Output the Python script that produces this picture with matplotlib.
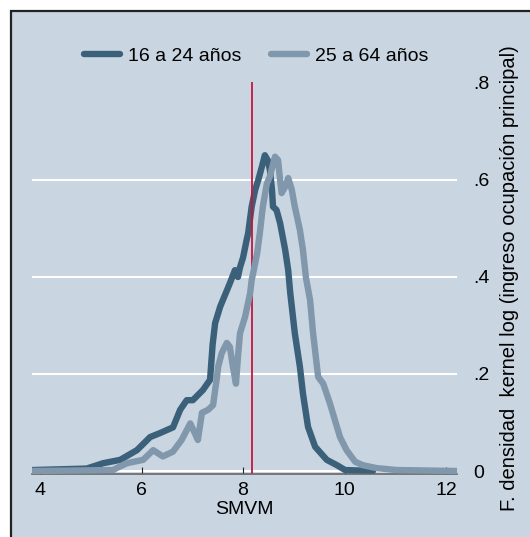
import matplotlib
matplotlib.use("Agg")
import matplotlib.pyplot as plt
from matplotlib.patches import Rectangle

# densidad kernel, 16 a 24 años
x_joven = [3.86, 4.92, 5.24, 5.58, 5.91, 6.17, 6.36, 6.62, 6.76, 6.89, 7.01, 7.21,
           7.35, 7.40, 7.45, 7.55, 7.74, 7.84, 7.90, 7.94, 8.00, 8.07, 8.10, 8.17,
           8.24, 8.30, 8.37, 8.43, 8.49, 8.53, 8.57, 8.59, 8.66, 8.73, 8.83, 8.89,
           8.93, 9.02, 9.12, 9.18, 9.28, 9.42, 9.65, 9.85, 10.01, 10.56]
y_joven = [0.002, 0.005, 0.016, 0.023, 0.043, 0.070, 0.078, 0.090, 0.126, 0.146, 0.146, 0.167,
           0.188, 0.260, 0.305, 0.339, 0.387, 0.414, 0.400, 0.420, 0.440, 0.476, 0.490, 0.545,
           0.580, 0.600, 0.627, 0.651, 0.640, 0.620, 0.580, 0.545, 0.538, 0.511, 0.456, 0.414,
           0.367, 0.284, 0.215, 0.160, 0.091, 0.050, 0.023, 0.012, 0.002, 0.0]

# densidad kernel, 25 a 64 años
x_adulto = [3.86, 5.44, 5.51, 5.71, 6.03, 6.23, 6.42, 6.62, 6.79, 6.96, 7.05, 7.11,
            7.19, 7.31, 7.41, 7.45, 7.48, 7.51, 7.58, 7.68, 7.74, 7.80, 7.86, 7.90,
            7.94, 8.04, 8.14, 8.17, 8.20, 8.28, 8.33, 8.39, 8.47, 8.53, 8.56, 8.63,
            8.69, 8.73, 8.76, 8.83, 8.89, 8.96, 9.02, 9.12, 9.18, 9.24, 9.32, 9.38,
            9.48, 9.58, 9.71, 9.91, 10.04, 10.21, 10.36, 10.63, 11.03, 12.22]
y_adulto = [0.0, 0.002, 0.006, 0.016, 0.023, 0.043, 0.030, 0.040, 0.064, 0.098, 0.078, 0.064,
            0.120, 0.126, 0.136, 0.167, 0.188, 0.215, 0.243, 0.264, 0.256, 0.215, 0.180, 0.235,
            0.284, 0.318, 0.367, 0.394, 0.408, 0.450, 0.490, 0.545, 0.593, 0.607, 0.620, 0.648,
            0.641, 0.600, 0.573, 0.586, 0.604, 0.580, 0.545, 0.497, 0.456, 0.398, 0.353, 0.284,
            0.194, 0.180, 0.140, 0.070, 0.043, 0.019, 0.012, 0.006, 0.002, 0.0]

smvm = 8.18
xticks = [4, 6, 8, 10, 12]
yticks = [0, 0.2, 0.4, 0.6, 0.8]
ytick_labels = ["0", ".2", ".4", ".6", ".8"]
series_names = ["16 a 24 años", "25 a 64 años"]

plt.rcParams["font.family"] = ["Liberation Sans", "DejaVu Sans"]

bg = "#c9d5e1"
fig = plt.figure(figsize=(5.30, 5.37), dpi=100)
fig.patch.set_facecolor("white")
frame = Rectangle((0.0208, -0.05), 1.1, 1.0295, transform=fig.transFigure,
                  facecolor=bg, edgecolor="#222222", linewidth=1.6, zorder=-5)
fig.patches.append(frame)

ax = fig.add_axes([0.0604, 0.1173, 0.802, 0.730])
ax.set_facecolor(bg)
for g in [0, 0.2, 0.4, 0.6]:
    ax.axhline(g, color="white", linewidth=1.5, zorder=1)

l1, = ax.plot(x_joven, y_joven, color="#3b6079", linewidth=4.6, solid_capstyle="round",
              solid_joinstyle="round", zorder=2)
ax.axvline(smvm, color="#c8143c", linewidth=1.3, zorder=2.5)
l2, = ax.plot(x_adulto, y_adulto, color="#8097ac", linewidth=4.6, solid_capstyle="round",
              solid_joinstyle="round", zorder=3)

ax.set_xlim(3.842, 12.217)
ax.set_ylim(-0.0062, 0.802)
for s in ["top", "left", "right"]:
    ax.spines[s].set_visible(False)
ax.spines["bottom"].set_color("#666666")
ax.spines["bottom"].set_linewidth(1.2)

ax.set_xticks(xticks)
ax.tick_params(axis="x", direction="in", length=5, color="#222222", labelsize=14, pad=6)
ax.yaxis.tick_right()
ax.set_yticks(yticks)
ax.set_yticklabels(ytick_labels)
ax.tick_params(axis="y", length=0, labelsize=14, pad=12)
ax.set_xlabel("SMVM", fontsize=14, labelpad=1)

fig.text(0.962, 0.482, "F. densidad  kernel log (ingreso ocupación principal)",
         rotation=90, ha="center", va="center", fontsize=14.5)

fig.legend([l1, l2], series_names, loc="center", bbox_to_anchor=(0.483, 0.896), ncol=2,
           frameon=False, fontsize=14, handlelength=1.85, handletextpad=0.42,
           columnspacing=1.5)

fig.savefig("out.png", dpi=100)
